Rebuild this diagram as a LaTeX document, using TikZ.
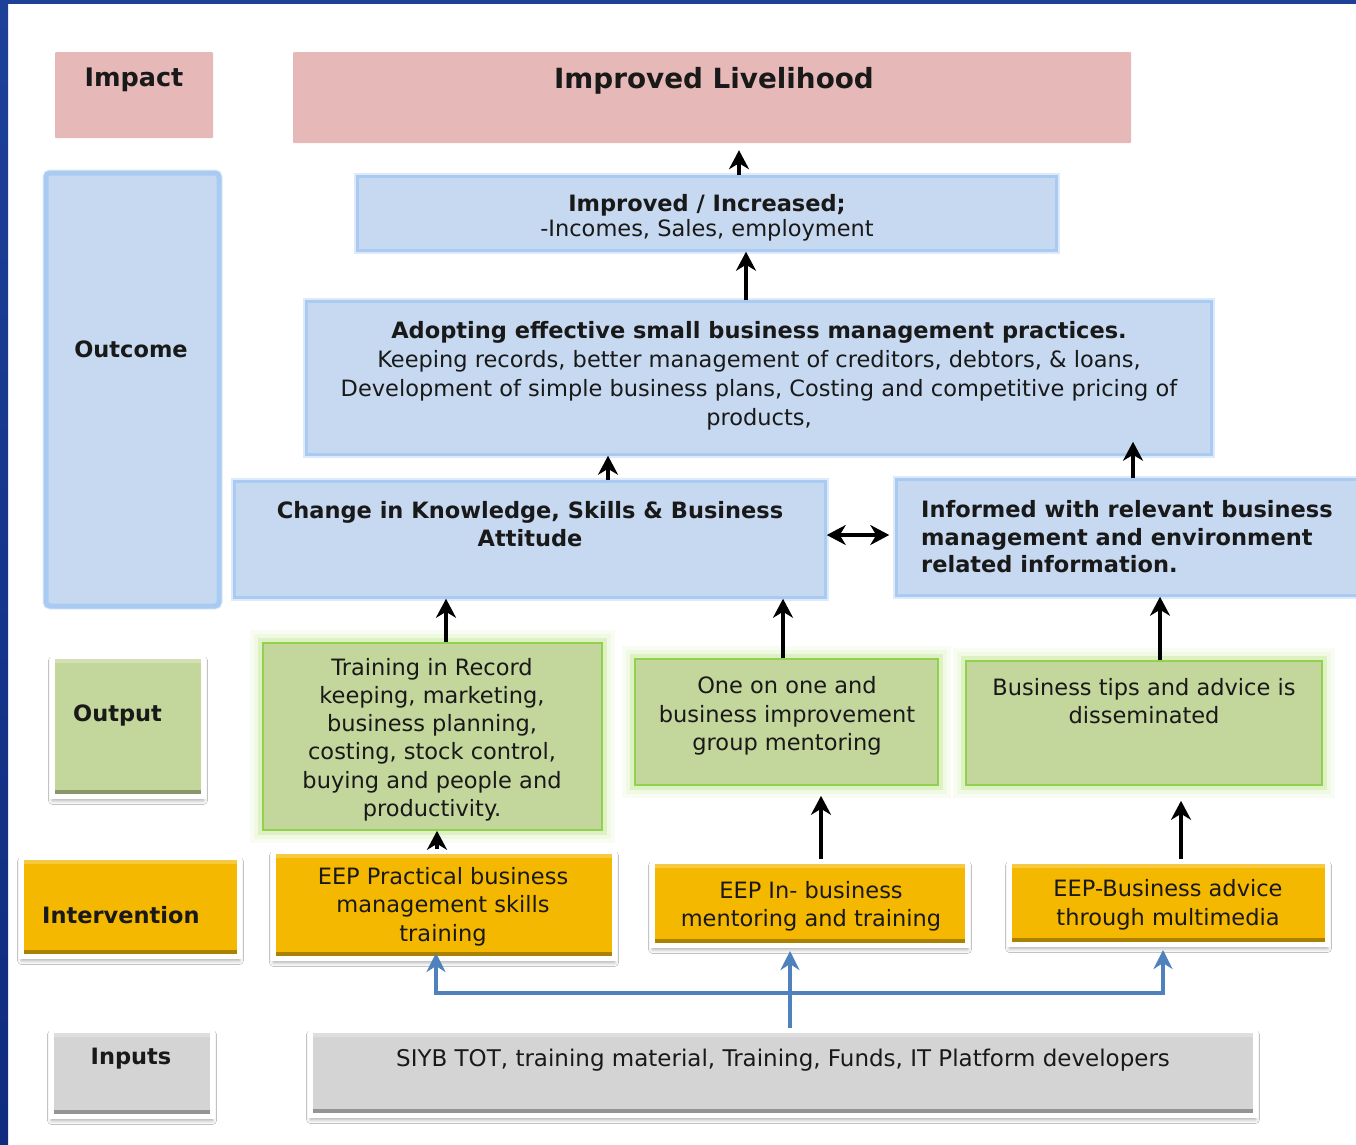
\documentclass[tikz,border=0pt]{standalone}
\usepackage{fontspec}
\setmainfont{DejaVu Sans}
\usepackage{tikz}
\usetikzlibrary{arrows.meta,shadows.blur,calc}
\definecolor{lfBand}{HTML}{1D4099}
\definecolor{lfBandDk}{HTML}{0F2C7E}
\definecolor{lfImpact}{HTML}{E6B8B7}
\definecolor{lfOutcome}{HTML}{C6D9F1}
\definecolor{lfOutLine}{HTML}{A9CBF1}
\definecolor{lfOutGlow}{HTML}{DCEAFB}
\definecolor{lfOutput}{HTML}{C3D69B}
\definecolor{lfOutputLine}{HTML}{92D050}
\definecolor{lfOutputGlow}{HTML}{DDF1C2}
\definecolor{lfInterv}{HTML}{F5B800}
\definecolor{lfInput}{HTML}{D4D4D4}
\definecolor{lfFeed}{HTML}{4F81BD}

\begin{document}
\begin{tikzpicture}[x=1pt,y=-1pt,
  every node/.style={inner sep=0pt},
  bodytxt/.style={font=\fontsize{22.5}{28.5}\selectfont,align=center,text=black!90},
  headtxt/.style={bodytxt,font=\bfseries\fontsize{22.5}{28.5}\selectfont},
  impbox/.style={fill=lfImpact,rounded corners=1pt},
  outbox/.style={fill=lfOutcome,draw=lfOutLine,line width=2.5pt,
                 preaction={draw=lfOutGlow,line width=7pt}},
  grnbox/.style={fill=lfOutput,draw=lfOutputLine,line width=1.6pt,
                 preaction={draw=lfOutputGlow!20,line width=26pt},
                 preaction={draw=lfOutputGlow!45,line width=18pt},
                 preaction={draw=lfOutputGlow,line width=10pt}},
  bevel/.style={draw=white,line width=5pt,fill=#1,
                blur shadow={shadow xshift=0pt,shadow yshift=-4pt,shadow blur radius=4pt,shadow opacity=35},
                path picture={
                  \fill[#1!70!black] ([yshift=2pt]path picture bounding box.south west) rectangle ([yshift=7pt]path picture bounding box.south east);
                  \fill[white,opacity=0.25] ([yshift=-2pt]path picture bounding box.north west) rectangle ([yshift=-6pt]path picture bounding box.north east);}},
  up/.style={-{Stealth[length=19pt,width=20pt,inset=6pt]},line width=3.2pt,black},
  both/.style={{Stealth[length=19pt,width=20pt,inset=6pt]}-{Stealth[length=19pt,width=20pt,inset=6pt]},line width=3.2pt,black},
  feed/.style={-{Stealth[length=19pt,width=19pt,inset=6pt]},line width=3.5pt,lfFeed}
]
\useasboundingbox (0,0) rectangle (1356,1144);
\fill[white] (0,0) rectangle (1356,1144);
\shade[top color=lfBand,bottom color=lfBandDk] (0,0) rectangle (8,1144);
\fill[lfBand] (0,0) rectangle (1356,4);

% impact
\node[impbox,minimum width=158pt,minimum height=86pt] (impact) at (134,95) {};
\node[headtxt,font=\bfseries\fontsize{25.5}{30}\selectfont] (impact-t) at (134,80) {Impact};
\node[impbox,minimum width=838pt,minimum height=91pt] (liveli) at (712,97.5) {};
\node[headtxt,font=\bfseries\fontsize{27.8}{32}\selectfont] (liveli-t) at (714,81) {Improved Livelihood};

% outcome
\node[outbox,line width=5pt,rounded corners=4pt,minimum width=173pt,minimum height=433pt] (outcome) at (132.5,389.5) {};
\node[headtxt] (outcome-t) at (131,349.5) {Outcome};
\node[outbox,minimum width=699pt,minimum height=74pt] (incr) at (707,213.5) {};
\node[bodytxt,font=\fontsize{22.5}{25}\selectfont] (incr-t) at (707,217.5)
  {{\bfseries Improved / Increased;}\\-Incomes, Sales, employment};
\node[outbox,minimum width=905pt,minimum height=153pt] (adopt) at (759,378) {};
\node[bodytxt,font=\fontsize{22.5}{29}\selectfont] (adopt-t) at (759,376)
  {{\bfseries Adopting effective small business management practices.}\\
   Keeping records, better management of creditors, debtors, \& loans,\\
   Development of simple business plans, Costing and competitive pricing of\\
   products,};
\node[outbox,minimum width=591pt,minimum height=116pt] (change) at (530,539.5) {};
\node[headtxt] (change-t) at (530,524) {Change in Knowledge, Skills \& Business\\Attitude};
\node[outbox,minimum width=462pt,minimum height=116pt] (inform) at (1127.5,537.5) {};
\node[headtxt,font=\bfseries\fontsize{22.5}{27.5}\selectfont,align=left,anchor=west] (inform-t) at (921,537)
  {Informed with relevant business\\management and environment\\related information.};

% output
\node[bevel=lfOutput,minimum width=151pt,minimum height=140pt] (output) at (128,726.5) {};
\node[headtxt,anchor=west] (output-t) at (73,715) {Output};
\node[grnbox,minimum width=339pt,minimum height=187pt] (train) at (432.5,736.5) {};
\node[bodytxt,font=\fontsize{22.5}{28.2}\selectfont] (train-t) at (432,739.5)
  {Training in Record\\keeping, marketing,\\business planning,\\costing, stock control,\\buying and people and\\productivity.};
\node[grnbox,minimum width=303pt,minimum height=126pt] (one) at (786.5,722) {};
\node[bodytxt] (one-t) at (787,716) {One on one and\\business improvement\\group mentoring};
\node[grnbox,minimum width=356pt,minimum height=124pt] (tips) at (1144,723) {};
\node[bodytxt] (tips-t) at (1144,701) {Business tips and advice is\\disseminated};

% intervention
\node[bevel=lfInterv,minimum width=218pt,minimum height=99pt] (interv) at (130.5,907) {};
\node[headtxt,anchor=west] (interv-t) at (42,915.5) {Intervention};
\node[bevel=lfInterv,minimum width=341pt,minimum height=107pt] (eep1) at (444,905) {};
\node[bodytxt] (eep1-t) at (443,906.5) {EEP Practical business\\management skills\\training};
\node[bevel=lfInterv,minimum width=315pt,minimum height=84pt] (eep2) at (810,903.5) {};
\node[bodytxt] (eep2-t) at (811,906.5) {EEP In- business\\mentoring and training};
\node[bevel=lfInterv,minimum width=318pt,minimum height=83pt] (eep3) at (1168.5,903) {};
\node[bodytxt] (eep3-t) at (1168,905) {EEP-Business advice\\through multimedia};

% inputs
\node[bevel=lfInput,minimum width=161pt,minimum height=86pt] (inputs) at (132,1073.5) {};
\node[headtxt] (inputs-t) at (131,1059) {Inputs};
\node[bevel=lfInput,minimum width=945pt,minimum height=85pt] (siyb) at (783,1073) {};
\node[bodytxt,font=\fontsize{23}{28}\selectfont] (siyb-t) at (783,1060.5) {SIYB TOT, training material, Training, Funds, IT Platform developers};

% black arrows
\draw[up,shorten >=7pt] ([xshift=32pt]incr.north) -- ([xshift=32pt]incr.north |- liveli.south);
\draw[up] ([xshift=-13pt]adopt.north) -- ([xshift=-13pt]adopt.north |- incr.south);
\draw[up] ([xshift=78pt]change.north) -- ([xshift=78pt]change.north |- adopt.south);
\draw[up,shorten >=-14pt] ([xshift=5.5pt]inform.north) -- ([xshift=5.5pt]inform.north |- adopt.south);
\draw[up] ([xshift=13.5pt]train.north) -- ([xshift=13.5pt]train.north |- change.south);
\draw[up] ([xshift=-3.5pt]one.north) -- ([xshift=-3.5pt]one.north |- change.south);
\draw[up] ([xshift=16pt]tips.north) -- ([xshift=16pt]tips.north |- inform.south);
\draw[up] ([xshift=-7pt]eep1.north) -- ([xshift=-7pt]eep1.north |- train.south);
\draw[up,shorten >=10pt] ([xshift=11pt]eep2.north) -- ([xshift=11pt]eep2.north |- one.south);
\draw[up,shorten >=15pt] ([xshift=12.5pt]eep3.north) -- ([xshift=12.5pt]eep3.north |- tips.south);
\draw[both,shorten >=6pt] ([yshift=4.5pt]change.east) -- ([yshift=4.5pt]change.east -| inform.west);

% blue feed lines
\coordinate (fork) at (790,993);
\draw[feed,shorten >=3pt] ([xshift=7pt]siyb.north) -- ([xshift=7pt]siyb.north |- eep2.south);
\draw[feed,shorten >=-8pt] (fork) -| ([xshift=-8pt]eep1.south);
\draw[feed,shorten >=3pt] (fork) -| ([xshift=-5.5pt]eep3.south);
\end{tikzpicture}
\end{document}
